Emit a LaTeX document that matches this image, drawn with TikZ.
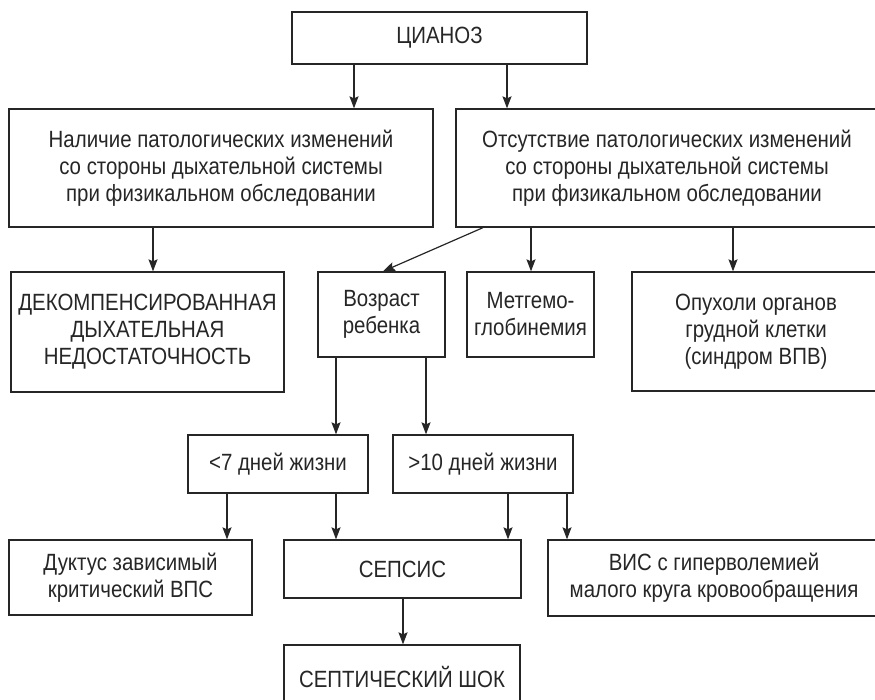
\documentclass[tikz,border=0pt]{standalone}
\usepackage{fontspec}
\setmainfont{Liberation Sans}[FakeStretch=0.87]
\usetikzlibrary{arrows.meta}
\definecolor{inkgray}{HTML}{262626}
\begin{document}
\begin{tikzpicture}[x=1pt,y=-1pt]
\tikzstyle{every node}+=[inner sep=0pt, font=\fontsize{23.5}{27}\selectfont, text=inkgray, align=center]
\tikzstyle{box}=[draw=inkgray, line width=1.3pt, rectangle]
\tikzstyle{arr}=[draw=inkgray, line width=1.2pt, -{Stealth[length=12pt,width=9pt,inset=2pt]}]
\useasboundingbox (0,0) rectangle (875,700);
\clip (0,0) rectangle (875,700);
\node [box, minimum width=295, minimum height=52] (cyan) at (439.5,38) {ЦИАНОЗ};
\node [box, minimum width=424, minimum height=118] (pres) at (221,168) {Наличие патологических изменений\\со стороны дыхательной системы\\при физикальном обследовании};
\node [box, minimum width=422, minimum height=118] (abs) at (667,168) {Отсутствие патологических изменений\\со стороны дыхательной системы\\при физикальном обследовании};
\node [box, minimum width=273, minimum height=120] (dek) at (147.5,332) {ДЕКОМПЕНСИРОВАННАЯ\\ДЫХАТЕЛЬНАЯ\\НЕДОСТАТОЧНОСТЬ};
\node [box, minimum width=127, minimum height=85] (age) at (381.5,314.5) {Возраст\\ребенка};
\node [box, minimum width=127, minimum height=85] (met) at (530.5,314.5) {Метгемо-\\глобинемия};
\node [box, minimum width=248, minimum height=119] (tum) at (756,331.5) {Опухоли органов\\грудной клетки\\(синдром ВПВ)};
\node [box, minimum width=180, minimum height=58] (lt7) at (278,464) {<7 дней жизни};
\node [box, minimum width=180, minimum height=58] (gt10) at (483,464) {>10 дней жизни};
\node [box, minimum width=243, minimum height=75] (duct) at (130.5,577.5) {Дуктус зависимый\\критический ВПС};
\node [box, minimum width=237, minimum height=58] (seps) at (402.5,569) {СЕПСИС};
\node [box, minimum width=332, minimum height=76] (vis) at (714,578) {ВИС с гиперволемией\\малого круга кровообращения};
\node [box, minimum width=236, minimum height=64] (shock) at (402,677) {СЕПТИЧЕСКИЙ ШОК};
\draw [arr] (cyan.south -| 354,0) -- (pres.north -| 354,0);
\draw [arr] (cyan.south -| 507,0) -- (abs.north -| 507,0);
\draw [arr] (pres.south -| 153,0) -- (dek.north -| 153,0);
\draw [arr] (abs.south -| 483,0) -- (age.north -| 383,0);
\draw [arr] (abs.south -| 531,0) -- (met.north -| 531,0);
\draw [arr] (abs.south -| 733,0) -- (tum.north -| 733,0);
\draw [arr] (age.south -| 336,0) -- (lt7.north -| 336,0);
\draw [arr] (age.south -| 426,0) -- (gt10.north -| 426,0);
\draw [arr] (lt7.south -| 227,0) -- (duct.north -| 227,0);
\draw [arr] (lt7.south -| 336,0) -- (seps.north -| 336,0);
\draw [arr] (gt10.south -| 508,0) -- (seps.north -| 508,0);
\draw [arr] (gt10.south -| 567,0) -- (vis.north -| 567,0);
\draw [arr] (seps.south -| 403,0) -- (shock.north -| 403,0);
\end{tikzpicture}
\end{document}
